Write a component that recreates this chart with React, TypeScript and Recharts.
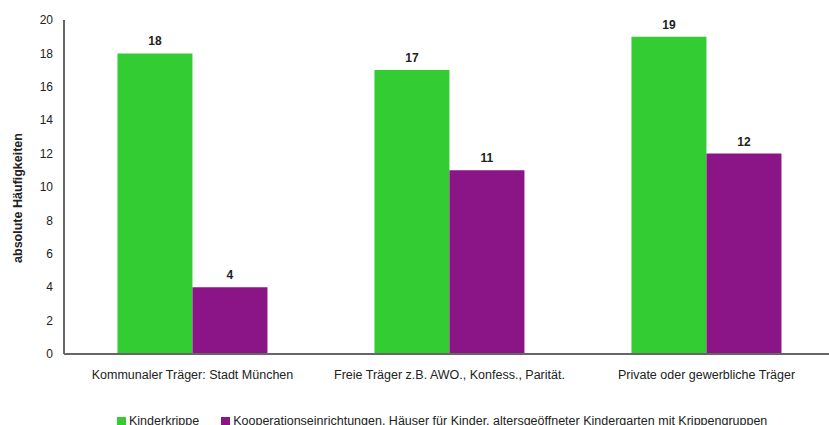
import React from "react";
import { BarChart, Bar, XAxis, YAxis, Legend, LabelList } from "recharts";

const categories = [
  "Kommunaler Träger: Stadt München",
  "Freie Träger z.B. AWO., Konfess., Parität.",
  "Private oder gewerbliche Träger",
];
const krippe = [18, 17, 19];
const kooperation = [4, 11, 12];
const yTicks = [0, 2, 4, 6, 8, 10, 12, 14, 16, 18, 20];
const seriesNames = [
  "Kinderkrippe",
  "Kooperationseinrichtungen, Häuser für Kinder, altersgeöffneter Kindergarten mit Krippengruppen",
];
const yLabel = "absolute Häufigkeiten";

const data = categories.map((c, i) => ({ name: c, a: krippe[i], b: kooperation[i] }));

const GREEN = "#33cc33";
const PURPLE = "#8b1586";
const FONT = "'Liberation Sans', Arial, sans-serif";

const LegendContent = () => (
  <div style={{ paddingLeft: 117, paddingTop: 9, fontFamily: FONT, fontSize: 12.5, color: "#222", display: "flex", alignItems: "center", whiteSpace: "nowrap", lineHeight: "14px" }}>
    <span style={{ width: 9, height: 9, background: GREEN, display: "inline-block", marginRight: 3 }} />
    <span style={{ marginRight: 22 }}>{seriesNames[0]}</span>
    <span style={{ width: 9, height: 9, background: PURPLE, display: "inline-block", marginRight: 3 }} />
    <span>{seriesNames[1]}</span>
  </div>
);

const YLabel = () => (
  <text
    x={18}
    y={198}
    transform="rotate(-90 18 198)"
    textAnchor="middle"
    dominantBaseline="central"
    style={{ fontSize: 12.5, fontWeight: "bold", fill: "#222", fontFamily: FONT }}
  >
    {yLabel}
  </text>
);

export default function App() {
  return (
    <div style={{ position: "absolute", left: 0, top: 0, width: 829, height: 425, overflow: "hidden", background: "#fff" }}>
      <BarChart
        width={840}
        height={425}
        data={data}
        margin={{ top: 20, right: 5, bottom: 0, left: 0 }}
        barCategoryGap="20.8%"
        barGap={0}
      >
        <XAxis
          dataKey="name"
          axisLine={{ stroke: "#666", strokeWidth: 2 }}
          tickLine={false}
          tickSize={0}
          tickMargin={16}
          height={51}
          interval={0}
          tick={{ fontSize: 12.5, fill: "#222", fontFamily: FONT }}
        />
        <YAxis
          width={64}
          domain={[0, 20]}
          ticks={yTicks}
          axisLine={{ stroke: "#666", strokeWidth: 2 }}
          tickLine={false}
          tickSize={8}
          tickMargin={3}
          tick={{ fontSize: 12, fill: "#222", fontFamily: FONT }}
          label={<YLabel />}
        />
        <Legend verticalAlign="bottom" height={20} content={<LegendContent />} />
        <Bar dataKey="a" fill={GREEN} isAnimationActive={false}>
          <LabelList dataKey="a" position="top" offset={8} style={{ fontSize: 12, fontWeight: "bold", fill: "#222", fontFamily: FONT }} />
        </Bar>
        <Bar dataKey="b" fill={PURPLE} isAnimationActive={false}>
          <LabelList dataKey="b" position="top" offset={8} style={{ fontSize: 12, fontWeight: "bold", fill: "#222", fontFamily: FONT }} />
        </Bar>
      </BarChart>
    </div>
  );
}
